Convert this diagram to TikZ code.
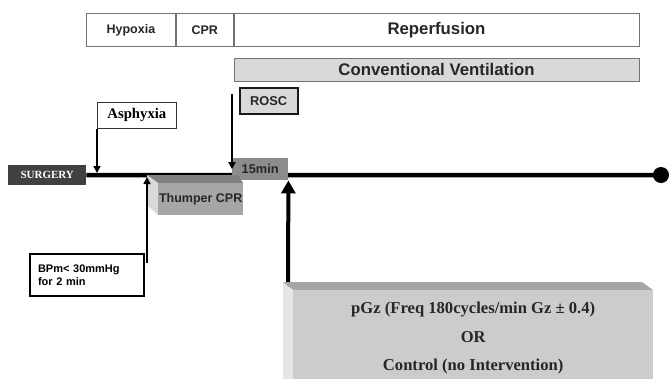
\documentclass[tikz,border=0pt]{standalone}
\usepackage{fontspec}
\setmainfont{Liberation Serif}
\newfontfamily\arialf{Liberation Sans}
\usepackage{tikz}
\usetikzlibrary{positioning}
\usetikzlibrary{arrows.meta}
\tikzset{phase/.style={draw=black!55,fill=white,line width=0.8pt,minimum height=33pt,
        inner sep=0pt,text=black!85,font=\arialf\bfseries\fontsize{12.5}{14}\selectfont},
    bigphase/.style={phase,font=\arialf\bfseries\fontsize{16.8}{19}\selectfont},
    rosc/.style={draw=black!90,fill=black!15,line width=2pt,minimum width=58pt,
        minimum height=26pt,inner sep=0pt,font=\arialf\bfseries\fontsize{12.8}{14}\selectfont,text=black!85},
    thinarrow/.style={line width=1.5pt,-{Triangle[width=7pt,length=7pt]}},
    bigarrow/.style={line width=4pt,-{Triangle[width=14pt,length=13pt]}},
    sidebox/.style={inner sep=0pt,anchor=north west}}

\begin{document}
\begin{tikzpicture}[x=1pt,y=-1pt]
\useasboundingbox (0,0) rectangle (669,378);
\node[phase,minimum width=89pt,anchor=north west] (hypoxia) at (86,13) {Hypoxia};
\node[phase,minimum width=57pt,right=0pt of hypoxia] (cpr) {CPR};
\node[bigphase,minimum width=405pt,right=0pt of cpr] (reperf) {Reperfusion};
\node[bigphase,fill=black!15,minimum height=23pt,minimum width=405pt,below=11pt of reperf] (convvent) {Conventional Ventilation};
\node[rosc,below right=5pt and 5pt of convvent.south west] (roscbox) {ROSC};
\node[sidebox,draw=black!80,line width=0.8pt,minimum width=79pt,minimum height=26pt,
    font=\bfseries\fontsize{14.7}{16}\selectfont] (asphyxia) at (97,102) {Asphyxia};
\node[sidebox,fill=black!75,text=white,minimum width=78pt,minimum height=20pt,
    font=\bfseries\fontsize{11}{12}\selectfont] (surgery) at (8,165) {SURGERY};

\coordinate (lineend) at (661,175);
\draw[line width=4.5pt] (surgery.east) -- (lineend);
\fill (lineend) circle (8pt);

\node[sidebox,fill=black!45,minimum width=56pt,minimum height=22pt,text=black!85,
    font=\arialf\bfseries\fontsize{12.8}{14}\selectfont] (min15) at (232,158) {15min};

\coordinate (asphyfoot) at (97,173);
\draw[thinarrow] (asphyxia.south west) -- (asphyfoot);
\coordinate (roscfoot) at (232,94);
\draw[thinarrow] (roscfoot) -- (min15.west);

\fill[black!50] (147,175) -- (238,175) -- (243,183) -- (158,183) -- cycle;
\fill[black!15] (147,175) -- (158,183) -- (158,215) -- (147,205) -- cycle;
\node[sidebox,fill=black!35,minimum width=85pt,minimum height=32pt,text=black!85,
    font=\arialf\bfseries\fontsize{12.5}{14}\selectfont] (thumper) at (158,183) {Thumper CPR};

\node[sidebox,draw=black,line width=2pt,text width=98pt,inner xsep=8pt,minimum height=42pt,
    align=left,font=\arialf\bfseries\fontsize{11}{13}\selectfont] (bpm) at (29,253) {BPm< 30mmHg\\for 2 min};
\coordinate (bpmtop) at (147,263);
\coordinate (thumpcorner) at (147,177);
\draw[thinarrow] (bpmtop) -- (thumpcorner);

\coordinate (gzfoot) at (288,288);
\draw[bigarrow] (gzfoot) -- (min15.south east);

\fill[black!35] (283,282) -- (642,282) -- (653,290) -- (293,290) -- cycle;
\fill[black!10] (283,282) -- (293,290) -- (293,380) -- (283,380) -- cycle;
\node[sidebox,fill=black!20,minimum width=360pt,minimum height=96pt,align=center,text=black!85,
    font=\bfseries\fontsize{16.6}{28.5}\selectfont] (gz) at (293,290)
    {pGz (Freq 180cycles/min Gz ± 0.4)\\OR\\Control (no Intervention)};
\end{tikzpicture}
\end{document}
